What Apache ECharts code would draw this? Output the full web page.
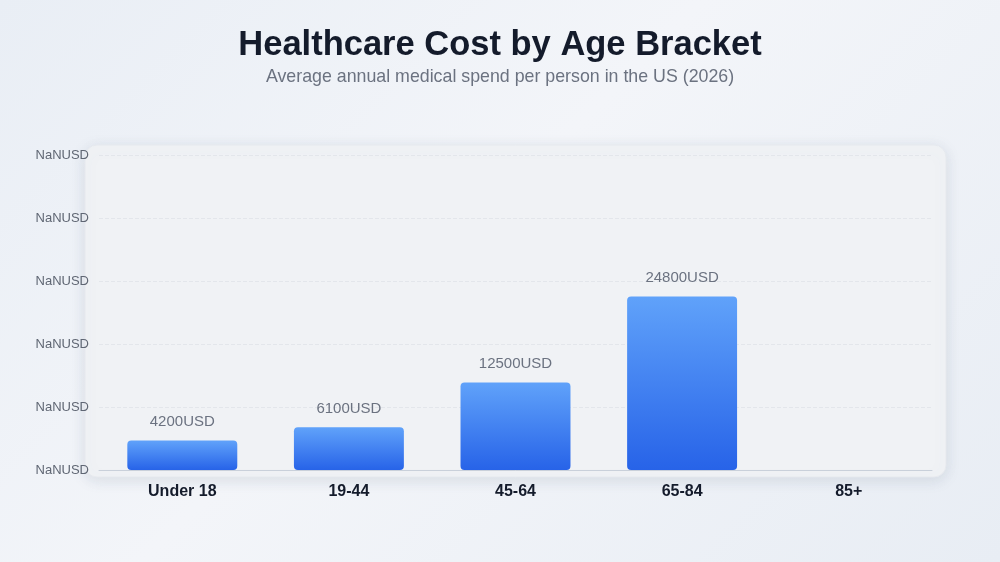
<!DOCTYPE html>
<html>
<head>
<meta charset="utf-8">
<script src="https://cdn.jsdelivr.net/npm/echarts@6/dist/echarts.min.js"></script>
<style>
    html, body { margin: 0; padding: 0; }
    body {
        width: 1000px; height: 562px;
        background: linear-gradient(135deg, #e9eef5 0%, #f3f5f9 45%, #e8edf4 100%);
    }
    #main { width: 1000px; height: 562px; }
</style>
</head>
<body>
<div id="main"></div>
<script>
var ageBrackets = ['Under 18', '19-44', '45-64', '65-84', '85+'];
var avgSpend = [4200, 6100, 12500, 24800, null];
var yTickLabel = 'NaNUSD';

var chartDom = document.getElementById('main');
var myChart = echarts.init(chartDom);
var option = {
    backgroundColor: 'transparent',
    title: {
        text: 'Healthcare Cost by Age Bracket',
        subtext: 'Average annual medical spend per person in the US (2026)',
        left: 'center',
        top: 23,
        itemGap: 5,
        textStyle: {
            fontFamily: 'Liberation Sans, Arial, sans-serif',
            fontSize: 34.5,
            fontWeight: 'bold',
            color: '#141b2b'
        },
        subtextStyle: {
            fontFamily: 'Liberation Sans, Arial, sans-serif',
            fontSize: 17.8,
            color: '#6b7280'
        }
    },
    // card behind the plot
    graphic: [
        {
            type: 'rect',
            z: -1,
            shape: { x: 85, y: 145, width: 861, height: 332, r: 12 },
            style: {
                fill: '#f0f2f5',
                stroke: '#e6e9ee',
                lineWidth: 1,
                shadowBlur: 14,
                shadowColor: 'rgba(100, 116, 139, 0.18)',
                shadowOffsetY: 3
            }
        }
    ],
    grid: {
        top: 155,
        left: 99,
        right: 68,
        bottom: 92,
        containLabel: false
    },
    xAxis: {
        type: 'category',
        data: ageBrackets,
        axisLine: { lineStyle: { color: '#c9d0da' } },
        axisTick: { show: false },
        axisLabel: {
            margin: 14,
            fontFamily: 'Liberation Sans, Arial, sans-serif',
            fontSize: 16,
            fontWeight: 'bold',
            color: '#141b2b'
        }
    },
    yAxis: {
        type: 'value',
        min: 0,
        max: 45000,
        interval: 9000,
        axisLine: { show: false },
        axisTick: { show: false },
        splitLine: { lineStyle: { color: '#e3e6eb', type: 'dashed' } },
        axisLabel: {
            margin: 10,
            fontFamily: 'Liberation Sans, Arial, sans-serif',
            fontSize: 13,
            color: '#5f6673',
            formatter: function () {
                return yTickLabel;
            }
        }
    },
    series: [
        {
            type: 'bar',
            data: avgSpend,
            barWidth: '66%',
            itemStyle: {
                borderRadius: [4, 4, 4, 4],
                color: new echarts.graphic.LinearGradient(0, 0, 0, 1, [
                    { offset: 0, color: '#60a2fa' },
                    { offset: 1, color: '#2763e8' }
                ])
            },
            label: {
                show: true,
                position: 'top',
                distance: 11,
                fontFamily: 'Liberation Sans, Arial, sans-serif',
                fontSize: 15,
                color: '#6b7280',
                formatter: function (p) {
                    return p.value + 'USD';
                }
            }
        }
    ]
};

myChart.setOption(option);
</script>
</body>
</html>
